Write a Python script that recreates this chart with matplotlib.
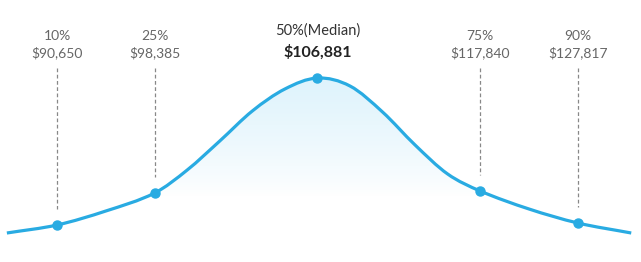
import numpy as np
import matplotlib
matplotlib.use("Agg")
import matplotlib.pyplot as plt
from matplotlib.path import Path
from matplotlib.patches import PathPatch

# ---- data ----
percentiles = [10, 25, 50, 75, 90]
pct_labels = ["10%", "25%", "50%(Median)", "75%", "90%"]
salaries = [90650, 98385, 106881, 117840, 127817]
point_heights = [37, 69, 184, 71, 39]

# curve shape (x = percentile rank, y = relative height)
curve_x = [2.3, 10, 17.5, 25, 30, 35, 40, 45, 50, 55, 60, 65, 70, 75, 82.5, 90, 98.2]
curve_y = [29, 37, 51, 69, 92, 121, 151, 173, 184, 176, 150, 117, 88, 71, 53, 39, 29]

LINE = "#29abe2"

fig = plt.figure(figsize=(6.41, 2.62), dpi=100)
ax = fig.add_axes([0, 0, 1, 1])
ax.set_xlim(1.244, 99.7)
ax.set_ylim(0, 262)
ax.axis("off")

# smooth path (Catmull-Rom -> cubic Bezier)
pts = np.column_stack([curve_x, curve_y]).astype(float)
verts = [tuple(pts[0])]
codes = [Path.MOVETO]
n = len(pts)
for i in range(n - 1):
    p0 = pts[i - 1] if i > 0 else pts[i]
    p1 = pts[i]
    p2 = pts[i + 1]
    p3 = pts[i + 2] if i + 2 < n else pts[i + 1]
    d1 = p2[0] - p1[0]
    c1 = p1 + (p2 - p0) * d1 / (p2[0] - p0[0]) / 3.0 if p2[0] != p0[0] else p1
    c2 = p2 - (p3 - p1) * d1 / (p3[0] - p1[0]) / 3.0 if p3[0] != p1[0] else p2
    verts += [tuple(c1), tuple(c2), tuple(p2)]
    codes += [Path.CURVE4] * 3

# fill region with gradient
fill_verts = verts + [(curve_x[-1], 0), (curve_x[0], 0), verts[0]]
fill_codes = codes + [Path.LINETO, Path.LINETO, Path.CLOSEPOLY]
fill_patch = PathPatch(Path(fill_verts, fill_codes), facecolor="none", edgecolor="none")
ax.add_patch(fill_patch)

ny = 200
g = np.linspace(0, 1, ny)[:, None]  # 0 at bottom, 1 at top
top = np.array([222, 243, 252]) / 255.0
white = np.array([1.0, 1.0, 1.0])
t = np.clip((g - 0.36) / (1.0 - 0.36), 0, 1) ** 0.8
img = white[None, None, :] * (1 - t[..., None]) + top[None, None, :] * t[..., None]
img = np.repeat(img, 2, axis=1)
im = ax.imshow(img, extent=[curve_x[0], curve_x[-1], 0, max(curve_y)], origin="lower",
               aspect="auto", zorder=1, interpolation="bilinear")
im.set_clip_path(fill_patch)

line_patch = PathPatch(Path(verts, codes), facecolor="none", edgecolor=LINE, lw=2.3,
                       zorder=3, capstyle="butt")
ax.add_patch(line_patch)

# points
ax.plot(percentiles, point_heights, "o", color=LINE, ms=6.5, zorder=4, mec=LINE)

# dashed lines and labels
font = "Lato"
for p, lab, s, h in zip(percentiles, pct_labels, salaries, point_heights):
    money = "${:,}".format(s)
    if p == 50:
        ax.text(p, 231, lab, ha="center", va="center", fontsize=10.5, color="#333333",
                family=font)
        ax.text(p, 210, money, ha="center", va="center", fontsize=11.5, color="#222222",
                family=font, fontweight="bold")
    else:
        ax.plot([p, p], [194, h + 16], color="#888888", lw=0.9, ls=(0, (3, 2)), zorder=2)
        ax.text(p, 226, lab, ha="center", va="center", fontsize=10, color="#666666",
                family=font)
        ax.text(p, 209, money, ha="center", va="center", fontsize=10, color="#666666",
                family=font)

fig.savefig("out.png", dpi=100)
